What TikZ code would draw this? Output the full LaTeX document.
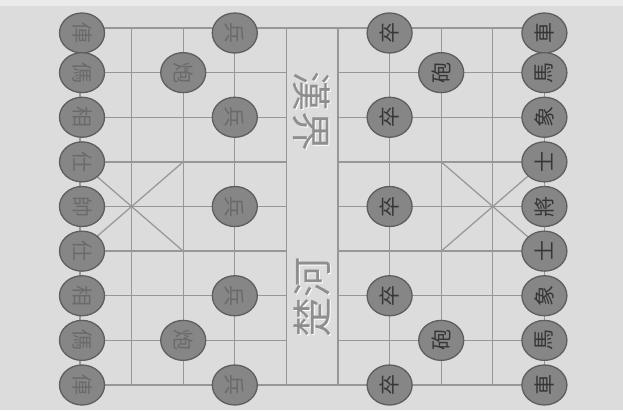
\documentclass[tikz,border=0pt]{standalone}
\usepackage{fontspec}
\usepackage{graphicx}
\newfontfamily\cjk{Noto Sans CJK TC}
\usetikzlibrary{shapes.geometric}
\definecolor{bg}{HTML}{DCDCDC}
\definecolor{bgtop}{HTML}{EBEBEB}
\definecolor{gridc}{HTML}{979797}
\definecolor{piecef}{HTML}{868686}
\definecolor{pieced}{HTML}{5E5E5E}
\definecolor{redtxt}{HTML}{6A6A6A}
\definecolor{blktxt}{HTML}{363636}
\definecolor{rivertxt}{HTML}{8E8E8E}
\newcommand\redch[1]{\rotatebox{-90}{#1}}
\newcommand\blkch[1]{\rotatebox{90}{#1}}
\tikzset{
  gridline/.style={draw=gridc, line width=1.3pt},
  gridlight/.style={draw=white, line width=0.9pt, xshift=1pt, yshift=-1pt},
  piece/.style={ellipse, draw=pieced, line width=1.3pt, fill=piecef,
    minimum width=45pt, minimum height=40pt, inner sep=0pt,
    font=\cjk\fontsize{21}{21}\selectfont},
  redp/.style={piece, text=redtxt},
  blkp/.style={piece, text=blktxt},
  toprow/.style={yshift=-5pt},
  leftcol/.style={xshift=2pt},
  river/.style={font=\cjk\fontsize{40}{40}\selectfont, text=rivertxt, inner sep=0pt}
}
\begin{document}
\begin{tikzpicture}[x=1pt,y=-1pt]
\useasboundingbox (0,0) rectangle (623,410);
\fill[bg] (0,0) rectangle (623,410);
\fill[bgtop] (0,0) rectangle (623,6);
\begin{scope}[shift={(80,28)}, x=51.6pt, y=-44.625pt]
  % grid points
  \foreach \c in {0,...,9} \foreach \r in {0,...,8} \coordinate (g-\c-\r) at (\c,\r);
  % embossed light lines
  \foreach \c in {0,...,9} \draw[gridlight] (g-\c-0) -- (g-\c-8);
  \draw[gridlight] (g-0-0) -- (g-9-0);
  \draw[gridlight] (g-0-8) -- (g-9-8);
  \foreach \r in {1,...,7} {\draw[gridlight] (g-0-\r) -- (g-4-\r); \draw[gridlight] (g-5-\r) -- (g-9-\r);}
  \draw[gridlight] (g-0-3) -- (g-2-5); \draw[gridlight] (g-0-5) -- (g-2-3);
  \draw[gridlight] (g-7-3) -- (g-9-5); \draw[gridlight] (g-7-5) -- (g-9-3);
  % main lines
  \foreach \c in {0,...,9} \draw[gridline] (g-\c-0) -- (g-\c-8);
  \draw[gridline] (g-0-0) -- (g-9-0);
  \draw[gridline] (g-0-8) -- (g-9-8);
  \foreach \r in {1,...,7} {\draw[gridline] (g-0-\r) -- (g-4-\r); \draw[gridline] (g-5-\r) -- (g-9-\r);}
  \draw[gridline] (g-0-3) -- (g-2-5); \draw[gridline] (g-0-5) -- (g-2-3);
  \draw[gridline] (g-7-3) -- (g-9-5); \draw[gridline] (g-7-5) -- (g-9-3);
  % red pieces (left)
  \node[redp, leftcol, toprow] (r-ju1) at (g-0-0) {\redch{俥}};
  \node[redp, leftcol] (r-ma1) at (g-0-1) {\redch{傌}};
  \node[redp, leftcol] (r-xi1) at (g-0-2) {\redch{相}};
  \node[redp, leftcol] (r-sh1) at (g-0-3) {\redch{仕}};
  \node[redp, leftcol] (r-sh) at (g-0-4) {\redch{帥}};
  \node[redp, leftcol] (r-sh2) at (g-0-5) {\redch{仕}};
  \node[redp, leftcol] (r-xi2) at (g-0-6) {\redch{相}};
  \node[redp, leftcol] (r-ma2) at (g-0-7) {\redch{傌}};
  \node[redp, leftcol] (r-ju2) at (g-0-8) {\redch{俥}};
  \node[redp] (r-pa1) at (g-2-1) {\redch{炮}};
  \node[redp] (r-pa2) at (g-2-7) {\redch{炮}};
  \node[redp, toprow] (r-bi1) at (g-3-0) {\redch{兵}};
  \node[redp] (r-bi2) at (g-3-2) {\redch{兵}};
  \node[redp] (r-bi3) at (g-3-4) {\redch{兵}};
  \node[redp] (r-bi4) at (g-3-6) {\redch{兵}};
  \node[redp] (r-bi5) at (g-3-8) {\redch{兵}};
  % black pieces (right)
  \node[blkp, toprow] (b-ju1) at (g-9-0) {\blkch{車}};
  \node[blkp] (b-ma1) at (g-9-1) {\blkch{馬}};
  \node[blkp] (b-xi1) at (g-9-2) {\blkch{象}};
  \node[blkp] (b-sh1) at (g-9-3) {\blkch{士}};
  \node[blkp] (b-ji) at (g-9-4) {\blkch{將}};
  \node[blkp] (b-sh2) at (g-9-5) {\blkch{士}};
  \node[blkp] (b-xi2) at (g-9-6) {\blkch{象}};
  \node[blkp] (b-ma2) at (g-9-7) {\blkch{馬}};
  \node[blkp] (b-ju2) at (g-9-8) {\blkch{車}};
  \node[blkp] (b-pa1) at (g-7-1) {\blkch{砲}};
  \node[blkp] (b-pa2) at (g-7-7) {\blkch{砲}};
  \node[blkp, toprow] (b-zu1) at (g-6-0) {\blkch{卒}};
  \node[blkp] (b-zu2) at (g-6-2) {\blkch{卒}};
  \node[blkp] (b-zu3) at (g-6-4) {\blkch{卒}};
  \node[blkp] (b-zu4) at (g-6-6) {\blkch{卒}};
  \node[blkp] (b-zu5) at (g-6-8) {\blkch{卒}};
\end{scope}
% river texts
\node[river, text=white, rotate=-90] (hanjie-l) at (313,112) {漢界};
\node[river, rotate=-90] (hanjie) at (312,111) {漢界};
\node[river, text=white, rotate=90] (chuhe-l) at (313,298) {楚河};
\node[river, rotate=90] (chuhe) at (312,297) {楚河};
\end{tikzpicture}
\end{document}
